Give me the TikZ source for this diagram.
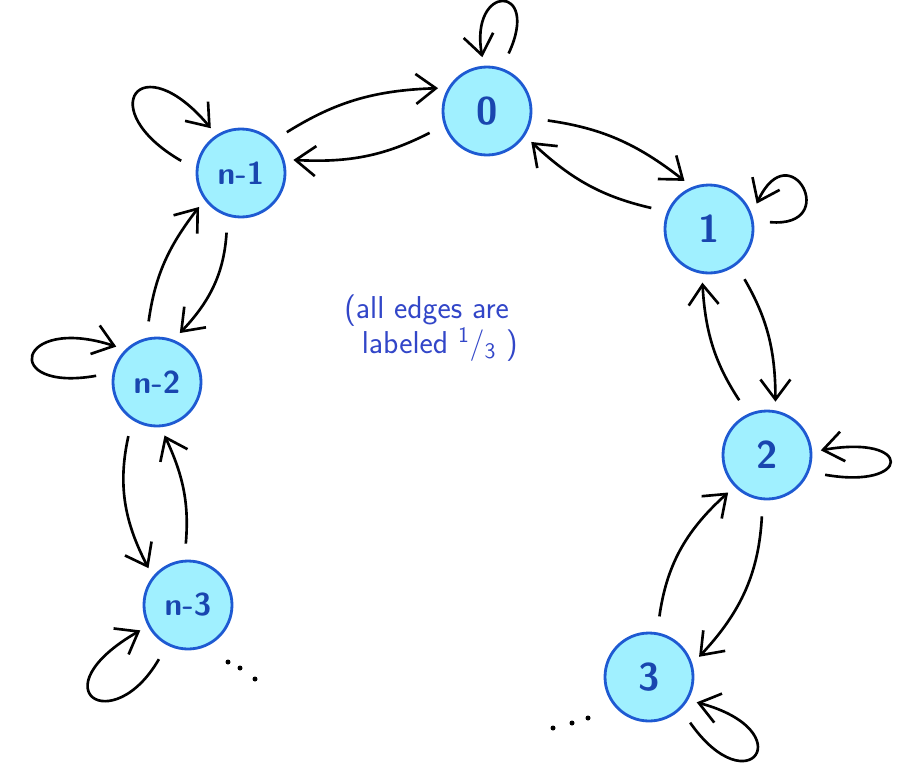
\documentclass[tikz,border=0pt]{standalone}
\usepackage{fontspec}
\usetikzlibrary{arrows.meta}
\definecolor{stfill}{RGB}{160,240,255}
\definecolor{stline}{RGB}{30,90,210}
\definecolor{sttext}{RGB}{25,70,175}
\definecolor{notecol}{RGB}{50,70,200}

\begin{document}
\begin{tikzpicture}[
  st/.style={circle, draw=stline, fill=stfill, line width=1.6pt,
             minimum size=1.76cm, inner sep=0pt, outer sep=0.2cm, text=sttext,
             font=\sffamily\bfseries\fontsize{22}{22}\selectfont},
  sm/.style={font=\sffamily\bfseries\fontsize{18}{18}\selectfont},
  arr/.style={-{Straight Barb[length=0.4cm,width=0.6cm]}, line width=1.5pt,
              shorten <=0.15cm},
  note/.style={text=notecol, align=left, inner sep=0pt,
               font=\sffamily\fontsize{18}{17}\selectfont},
  spot/.style={fill=black, radius=0.05cm}
]
  \useasboundingbox (0,0) rectangle (18.04,-15.38);
  % States
  \node[st] (z)  at (9.74,-2.22)  {0};
  \node[st] (a)  at (14.18,-4.58) {1};
  \node[st] (b)  at (15.34,-9.10) {2};
  \node[st] (c)  at (12.98,-13.54) {3};
  \node[st, sm] (m1) at (4.82,-3.46)  {n-1};
  \node[st, sm] (m2) at (3.14,-7.64)  {n-2};
  \node[st, sm] (m3) at (3.76,-12.10) {n-3};
  % Edges between neighbours
  \draw[arr] (m1.43)   to[bend left=15]  (z.155);
  \draw[arr] (z.200)   to[bend left=15]  (m1.14);
  \draw[arr] (z.-9)    to[bend left=15]  (a.117);
  \draw[arr] (a.159)   to[bend left=15]  (z.-35);
  \draw[arr] (a.-54)   to[bend left=15]  (b.81);
  \draw[arr] (b.116)   to[bend left=15]  (a.-97);
  \draw[arr] (b.-95)   to[bend left=20]  (c.22);
  \draw[arr] (c.80)    to[bend left=20]  (b.-136);
  \draw[arr] (m1.-105) to[bend left=20]  (m2.65);
  \draw[arr] (m2.100)  to[bend left=15]  (m1.-141);
  \draw[arr] (m2.-120) to[bend right=20] (m3.137);
  \draw[arr] (m3.93)   to[bend right=15] (m2.-82);
  % Self loops
  \draw[arr] (z.70)    .. controls +(65:1.7cm)   and +(100:1.5cm)  .. (z.95);
  \draw[arr] (a.8)     .. controls +(-5:1.6cm)   and +(65:1.6cm)   .. (a.28);
  \draw[arr] (b.-20)   .. controls +(-10:1.9cm)  and +(10:1.9cm)   .. (b.5);
  \draw[arr] (c.-47)   .. controls +(-55:2.2cm)  and +(-15:2.2cm)  .. (c.-28);
  \draw[arr] (m1.171)  .. controls +(150:2.2cm)  and +(130:2.2cm)  .. (m1.124);
  \draw[arr] (m2.172)  .. controls +(190:2.1cm)  and +(162:2.1cm)  .. (m2.139);
  \draw[arr] (m3.-118) .. controls +(-120:2cm)   and +(-150:2.4cm) .. (m3.-152);
  % Note
  \node[note, anchor=west] (t) at (6.88,-6.56)
    {(all edges are\\\hspace{0.35cm}labeled \textsuperscript{1}/\textsubscript{3} )};
  % Dots
  \fill[spot] (4.56,-13.24) circle;
  \fill[spot] (4.80,-13.36) circle;
  \fill[spot] (5.10,-13.58) circle;
  \fill[spot] (11.06,-14.56) circle;
  \fill[spot] (11.44,-14.46) circle;
  \fill[spot] (11.76,-14.36) circle;
\end{tikzpicture}
\end{document}
